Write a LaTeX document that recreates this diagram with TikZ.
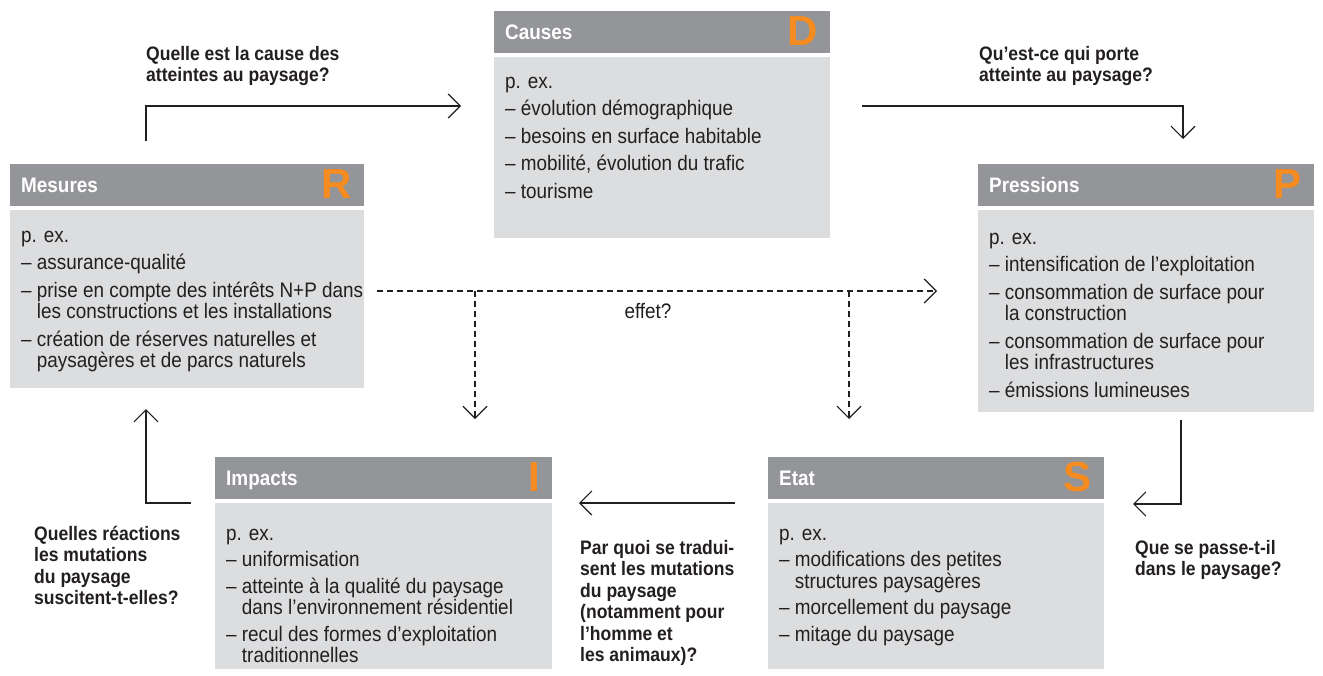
\documentclass[tikz,border=0pt]{standalone}
\usepackage{fontspec}
\setmainfont{Liberation Sans}
\newfontfamily\condfont[FakeStretch=0.9]{Liberation Sans}
\usetikzlibrary{arrows.meta}
\definecolor{hdrgray}{RGB}{147,149,152}
\definecolor{bodygray}{RGB}{220,221,222}
\definecolor{dporange}{RGB}{246,139,31}
\definecolor{ink}{RGB}{35,31,32}
\newcommand{\cont}{\hphantom{– }}
\begin{document}
\begin{tikzpicture}[x=1pt,y=-1pt,
  hdr/.style={fill=hdrgray, draw=none, anchor=north west, inner sep=0, minimum height=42pt},
  bodybox/.style={fill=bodygray, draw=none, anchor=north west, inner sep=0},
  hdrtxt/.style={text=white, font=\condfont\fontsize{21}{23}\selectfont\bfseries, anchor=base west, inner sep=0},
  letter/.style={text=dporange, font=\fontsize{42}{42}\selectfont\bfseries, anchor=base east, inner sep=0},
  bodytxt/.style={text=ink, font=\condfont\fontsize{21}{21.5}\selectfont, align=left, anchor=north west, inner sep=0},
  question/.style={text=ink, font=\condfont\fontsize{19.5}{21.5}\selectfont\bfseries, align=left, anchor=north west, inner sep=0},
  flow/.style={draw=ink, line width=1.2pt, -{Straight Barb[length=12pt,width=24pt]}},
  maybe/.style={draw=ink, line width=1.2pt, dash pattern=on 6pt off 4pt},
  maybetip/.style={maybe, -{Straight Barb[length=12pt,width=24pt,line width=1.2pt]}}
]
\useasboundingbox[fill=white] (0,0) rectangle (1323,675);

% ---------- Causes (D)
\node[hdr, minimum width=336pt] (hD) at (494,11) {};
\node[bodybox, minimum width=336pt, minimum height=181pt] (bD) at (494,57) {};
\node[hdrtxt] (tD) at (505,39) {Causes};
\node[letter] (lD) at (818,45) {D};
\node[bodytxt] (xD) at (505,73) {\rule{0pt}{15pt}p. ex.\\[6pt]
– évolution démographique\\[6pt]
– besoins en surface habitable\\[6pt]
– mobilité, évolution du trafic\\[6pt]
– tourisme};

% ---------- Mesures (R)
\node[hdr, minimum width=354pt] (hR) at (10,164) {};
\node[bodybox, minimum width=354pt, minimum height=178pt] (bR) at (10,210) {};
\node[hdrtxt] (tR) at (21,192) {Mesures};
\node[letter] (lR) at (352,198) {R};
\node[bodytxt] (xR) at (21,227) {\rule{0pt}{15pt}p. ex.\\[6pt]
– assurance-qualité\\[6pt]
– prise en compte des intérêts N+P dans\\
\cont les constructions et les installations\\[6pt]
– création de réserves naturelles et\\
\cont paysagères et de parcs naturels};

% ---------- Pressions (P)
\node[hdr, minimum width=336pt] (hP) at (978,164) {};
\node[bodybox, minimum width=336pt, minimum height=202pt] (bP) at (978,210) {};
\node[hdrtxt] (tP) at (989,192) {Pressions};
\node[letter] (lP) at (1302,198) {P};
\node[bodytxt] (xP) at (989,229) {\rule{0pt}{15pt}p. ex.\\[6pt]
– intensification de l’exploitation\\[6pt]
– consommation de surface pour\\
\cont la construction\\[6pt]
– consommation de surface pour\\
\cont les infrastructures\\[6pt]
– émissions lumineuses};

% ---------- Impacts (I)
\node[hdr, minimum width=337pt] (hI) at (215,457) {};
\node[bodybox, minimum width=337pt, minimum height=166pt] (bI) at (215,503) {};
\node[hdrtxt] (tI) at (226,485) {Impacts};
\node[letter] (lI) at (540,491) {I};
\node[bodytxt] (xI) at (226,525) {\rule{0pt}{15pt}p. ex.\\[5pt]
– uniformisation\\[5pt]
– atteinte à la qualité du paysage\\
\cont dans l’environnement résidentiel\\[5pt]
– recul des formes d’exploitation\\
\cont traditionnelles};

% ---------- Etat (S)
\node[hdr, minimum width=336pt] (hS) at (768,457) {};
\node[bodybox, minimum width=336pt, minimum height=166pt] (bS) at (768,503) {};
\node[hdrtxt] (tS) at (779,485) {Etat};
\node[letter] (lS) at (1092,491) {S};
\node[bodytxt] (xS) at (779,525) {\rule{0pt}{15pt}p. ex.\\[5pt]
– modifications des petites\\
\cont structures paysagères\\[5pt]
– morcellement du paysage\\[5pt]
– mitage du paysage};

% ---------- questions
\node[question] (q1) at (146,43) {\rule{0pt}{17pt}Quelle est la cause des\\ atteintes au paysage?};
\node[question] (q2) at (979,43) {\rule{0pt}{17pt}Qu’est-ce qui porte\\ atteinte au paysage?};
\node[question] (q3) at (1135,537) {\rule{0pt}{17pt}Que se passe-t-il\\ dans le paysage?};
\node[question] (q4) at (580,537) {\rule{0pt}{17pt}Par quoi se tradui-\\ sent les mutations\\ du paysage\\ (notamment pour\\ l’homme et\\ les animaux)?};
\node[question] (q5) at (34,523) {\rule{0pt}{17pt}Quelles réactions\\ les mutations\\ du paysage\\ suscitent-t-elles?};

% ---------- cycle connectors
\coordinate (a1s) at (146,141); \coordinate (a1e) at (461,106);
\draw[flow] (a1s) |- (a1e);
\coordinate (a2s) at (862,106); \coordinate (a2e) at (1183,139);
\draw[flow] (a2s) -| (a2e);
\coordinate (a3s) at (1181,420); \coordinate (a3e) at (1133,504);
\draw[flow] (a3s) |- (a3e);
\coordinate (a4s) at (735,503); \coordinate (a4e) at (579,503);
\draw[flow] (a4s) -- (a4e);
\coordinate (a5s) at (191,503); \coordinate (a5e) at (146,409);
\draw[flow] (a5s) -| (a5e);

% ---------- dashed effect connectors
\coordinate (d0) at (377,291); \coordinate (d1) at (937,291);
\coordinate (dv1) at (475,291); \coordinate (dv1e) at (475,419);
\coordinate (dv2) at (849,291); \coordinate (dv2e) at (849,419);
\draw[maybetip] (d0) -- (d1);
\draw[maybetip] (dv1) -- (dv1e);
\draw[maybetip] (dv2) -- (dv2e);
\node[text=ink, font=\condfont\fontsize{21}{23}\selectfont, inner sep=0] (eff) at (648,311) {effet?};
\end{tikzpicture}
\end{document}
